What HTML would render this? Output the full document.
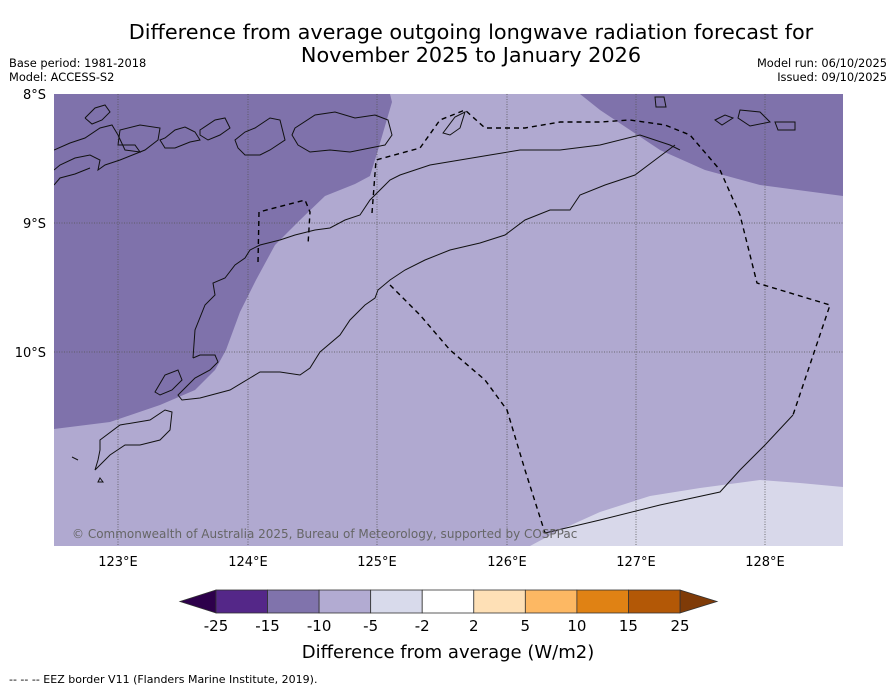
<!DOCTYPE html>
<html><head><meta charset="utf-8"><style>
body{margin:0;background:#fff;width:896px;height:690px;overflow:hidden;font-family:"DejaVu Sans","Liberation Sans",sans-serif}
svg text{font-family:"DejaVu Sans","Liberation Sans",sans-serif}
</style></head><body>
<svg width="896" height="690">
<text x="471" y="39" text-anchor="middle" font-size="20.8">Difference from average outgoing longwave radiation forecast for</text>
<text x="471" y="62" text-anchor="middle" font-size="20.8">November 2025 to January 2026</text>
<text x="9" y="67" font-size="11.4">Base period: 1981-2018</text>
<text x="9" y="81" font-size="11.4">Model: ACCESS-S2</text>
<text x="887" y="67" font-size="11.4" text-anchor="end">Model run: 06/10/2025</text>
<text x="887" y="81" font-size="11.4" text-anchor="end">Issued: 09/10/2025</text>
<defs><clipPath id="mc"><rect x="54" y="94" width="789" height="452"/></clipPath></defs>
<g clip-path="url(#mc)">
<rect x="54" y="94" width="789" height="452" fill="#b0a9d0"/>
<polygon fill="#7f72ab" points="54,94 390,94 392,102 378,150 370,176 355,184 325,196 300,220 275,245 256,280 240,312 226,350 215,370 195,390 160,405 110,422 54,429"/>
<polygon fill="#7f72ab" points="580,94 843,94 843,196 760,185 705,170 660,150 630,130 600,110"/>
<polygon fill="#d8d8ea" points="530,546 560,530 600,512 650,496 700,488 760,480 800,483 843,487 843,546"/>
<g stroke="#555" stroke-width="0.8" stroke-dasharray="1,1.5">
<line x1="118" y1="94" x2="118" y2="546"/><line x1="248" y1="94" x2="248" y2="546"/><line x1="377" y1="94" x2="377" y2="546"/><line x1="507" y1="94" x2="507" y2="546"/><line x1="636" y1="94" x2="636" y2="546"/><line x1="765" y1="94" x2="765" y2="546"/>
<line x1="54" y1="223" x2="843" y2="223"/><line x1="54" y1="352" x2="843" y2="352"/>
</g>
<g fill="none" stroke="#111" stroke-width="1">
<path d="M54,150 L70,143 85,138 100,128 112,125 118,135 125,150 140,152 135,145 118,145 120,130 140,125 160,128 158,140 145,150 120,160 105,165 98,170 100,160 90,155 75,158 60,165 54,170"/>
<path d="M54,185 L60,178 75,174 90,168"/>
<path d="M85,118 L95,108 105,105 110,112 102,120 92,124 85,118"/>
<path d="M165,138 L175,130 185,127 195,132 200,140 190,142 175,148 165,148 160,140Z"/>
<path d="M200,130 L215,120 225,118 230,128 220,135 208,140 200,135Z"/>
<path d="M235,140 L245,132 255,128 270,118 280,120 285,140 270,150 260,155 245,155 238,148Z"/>
<path d="M295,128 L315,115 335,112 355,118 375,115 388,120 392,135 385,145 370,148 350,152 330,150 310,152 298,145 292,135Z"/>
<path d="M740,110 L760,112 770,122 750,126 738,118Z"/><path d="M775,122 L795,122 795,130 778,130Z"/><path d="M655,97 L664,97 666,107 656,107Z"/><path d="M715,120 L725,115 733,118 722,125Z"/>
<path d="M443,133 L455,117 465,112 460,128 450,135Z"/>
<path d="M193,358 L195,330 205,305 215,295 213,283 225,278 235,265 245,258 250,250 260,245 280,240 295,235 315,230 330,228 345,220 360,215 370,200 390,180 400,175 430,165 460,160 490,155 520,150 560,150 600,145 640,135 670,145 680,150"/>
<path d="M193,358 L200,355 215,355 218,362 210,370 195,378 185,388 178,395 182,400 200,398 230,390 250,378 260,372 280,372 300,375 310,368 320,352 340,335 350,320 365,305 375,298 378,290 390,280 405,270 425,260 450,250 480,243 505,235 525,220 550,210 570,210 580,195 605,185 635,175 655,160 675,145"/>
<path d="M155,392 L165,375 178,370 182,380 172,390 160,395Z"/>
<path d="M100,440 L120,425 150,420 165,410 172,412 170,430 160,440 140,445 125,445 110,455 95,470 98,460 100,450Z"/>
<path d="M100,478 L103,482 98,482Z"/><path d="M72,457 L78,460"/>
<path d="M545,533 L600,520 660,505 720,492 740,470 765,445 793,415"/>
</g>
<g fill="none" stroke="#000" stroke-width="1.4" stroke-dasharray="5,4">
<path d="M258,262 L259,212 305,200 310,212 308,245"/>
<path d="M372,213 L376,160 420,148 440,120 465,110 485,128 525,128 560,122 600,122 630,120 665,125 690,135 720,170 740,215 757,283 830,305 793,415"/>
<path d="M390,285 L420,315 450,350 485,380 507,410 525,470 545,533"/>
</g>
<text x="72" y="538" font-size="12" fill="#666">© Commonwealth of Australia 2025, Bureau of Meteorology, supported by COSPPac</text>
</g>
<g font-size="13">
<text x="46" y="99" text-anchor="end">8°S</text>
<text x="46" y="228" text-anchor="end">9°S</text>
<text x="46" y="357" text-anchor="end">10°S</text>
<text x="118" y="566" text-anchor="middle">123°E</text>
<text x="248" y="566" text-anchor="middle">124°E</text>
<text x="377" y="566" text-anchor="middle">125°E</text>
<text x="507" y="566" text-anchor="middle">126°E</text>
<text x="636" y="566" text-anchor="middle">127°E</text>
<text x="765" y="566" text-anchor="middle">128°E</text>
</g>
<g id="cbar"></g>
<text x="448" y="658" text-anchor="middle" font-size="18">Difference from average (W/m2)</text>
<text x="9" y="683" font-size="11">--  --  -- EEZ border V11 (Flanders Marine Institute, 2019).</text>
</svg>
<script>
const cbTicks=["-25","-15","-10","-5","-2","2","5","10","15","25"];
const cbColors=["#542788","#8073ac","#b2abd2","#d8daeb","#ffffff","#fee0b6","#fdb863","#e08214","#b35806"];
const cbUnder="#2d004b";
const cbOver="#7f3b08";
const g=document.getElementById('cbar');
const NS="http://www.w3.org/2000/svg";
const x0=216,x1=680,y0=590,y1=613,w=(x1-x0)/cbColors.length;
function mk(t,a){const e=document.createElementNS(NS,t);for(const k in a)e.setAttribute(k,a[k]);g.appendChild(e);return e;}
let u=mk('polygon',{points:`${x0},${y0} 180,${(y0+y1)/2} ${x0},${y1}`,fill:cbUnder,stroke:'#333','stroke-width':0.8});


let o=mk('polygon',{points:`${x1},${y0} 717,${(y0+y1)/2} ${x1},${y1}`,fill:cbOver,stroke:'#333','stroke-width':0.8});


cbColors.forEach((c,i)=>{
 const r=mk('rect',{x:x0+i*w,y:y0,width:w,height:y1-y0,fill:c,stroke:'#333','stroke-width':0.8});
 
 
});
cbTicks.forEach((t,i)=>{
 const e=mk('text',{x:x0+i*w,y:631,'text-anchor':'middle','font-size':15});
 e.textContent=t;
 
 
});
</script>
</body></html>
